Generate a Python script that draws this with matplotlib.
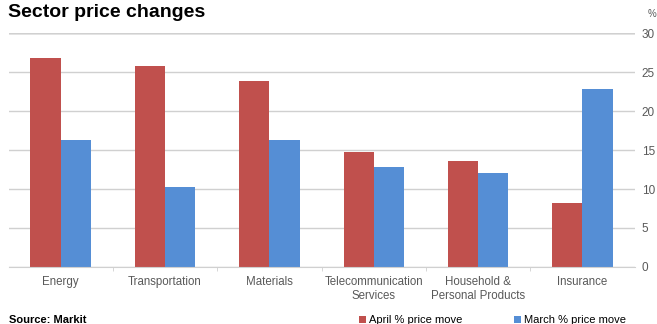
import numpy as np
import matplotlib.pyplot as plt

plt.rcParams['font.family'] = ['Liberation Sans', 'DejaVu Sans']

categories = ["Energy", "Transportation", "Materials", "Telecommunication\nServices",
              "Household &\nPersonal Products", "Insurance"]
april = [26.8, 25.8, 23.8, 14.8, 13.6, 8.2]
march = [16.3, 10.2, 16.3, 12.8, 12.0, 22.8]

red = "#C0504D"
blue = "#558ED5"
grey = "#595959"

fig = plt.figure(figsize=(6.57, 3.24), dpi=100)
ax = fig.add_axes([0.013, 0.176, 0.953, 0.722])

x = np.arange(len(categories))
w = 0.29
ax.bar(x - w / 2, april, w, color=red, label="April % price move")
ax.bar(x + w / 2, march, w, color=blue, label="March % price move")

ax.set_xlim(-0.5, len(categories) - 0.5)
ax.set_ylim(0, 30)
ax.set_yticks(range(0, 31, 5))
ax.yaxis.tick_right()
ax.tick_params(axis='y', length=0, pad=5, labelsize=8.5, labelcolor=grey)
ax.grid(axis='y', color="#D0D0D0", linewidth=1)
ax.set_axisbelow(True)
# top gridline is lighter and a bit thicker in the original
ax.axhline(30, color="#E6E6E6", linewidth=2, zorder=0)

ax.set_xticks(x)
ax.set_xticklabels(categories, fontsize=8.3, color=grey, linespacing=1.25)
ax.tick_params(axis='x', length=0, pad=6.5)
# separators between categories
ax.set_xticks(np.arange(0.5, len(categories) - 1, 1), minor=True)
ax.tick_params(axis='x', which='minor', length=3, color="#D0D0D0")

for s in ["top", "left", "right"]:
    ax.spines[s].set_visible(False)
ax.spines["bottom"].set_color("#D0D0D0")

fig.text(0.012, 0.96, "Sector price changes", fontsize=14, fontweight='bold', va='center')
fig.text(0.985, 0.958, "%", fontsize=7, color=grey, va='center')
fig.text(0.013, 0.012, "Source: Markit", fontsize=8, fontweight='bold', va='center')

fig.legend(loc='lower left', bbox_to_anchor=(0.531, -0.034), ncol=2, frameon=False,
           fontsize=8, handlelength=0.6, handleheight=0.6, handletextpad=0.3,
           columnspacing=4.7)

fig.savefig("out.png", dpi=100)
